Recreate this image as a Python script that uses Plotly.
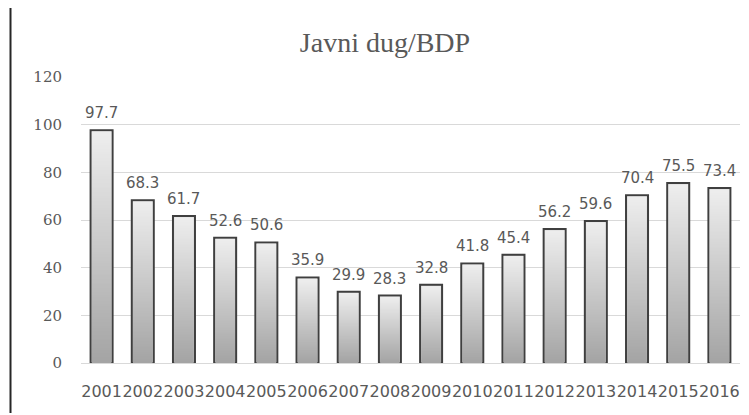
import base64
import struct
import zlib

import plotly.graph_objects as go

# Public debt to GDP ratio, in percent
years = ["2001", "2002", "2003", "2004", "2005", "2006", "2007", "2008",
         "2009", "2010", "2011", "2012", "2013", "2014", "2015", "2016"]
debt_to_gdp = [97.7, 68.3, 61.7, 52.6, 50.6, 35.9, 29.9, 28.3,
               32.8, 41.8, 45.4, 56.2, 59.6, 70.4, 75.5, 73.4]
y_ticks = [0, 20, 40, 60, 80, 100, 120]

TEXT_GREY = "#595959"
GRID_GREY = "#d9d9d9"
EDGE = "#3f3f3f"

W, H = 749, 415
M_L, M_R, M_T, M_B = 81, 9, 77, 52
BARGAP = 0.466
Y_MAX = 120


def gradient_png(top, bottom, rows=128, cols=4):
    """Build a small vertical-gradient PNG and return it as a data URI."""
    raw = b""
    for r in range(rows):
        t = r / (rows - 1)
        px = bytes(int(round(top[k] + (bottom[k] - top[k]) * t)) for k in range(3))
        raw += b"\x00" + px * cols

    def chunk(tag, data):
        c = struct.pack(">I", len(data)) + tag + data
        return c + struct.pack(">I", zlib.crc32(tag + data) & 0xFFFFFFFF)

    png = b"\x89PNG\r\n\x1a\n"
    png += chunk(b"IHDR", struct.pack(">IIBBBBB", cols, rows, 8, 2, 0, 0, 0))
    png += chunk(b"IDAT", zlib.compress(raw, 9))
    png += chunk(b"IEND", b"")
    return "data:image/png;base64," + base64.b64encode(png).decode()


bar_fill = gradient_png((238, 238, 238), (164, 164, 164))

fig = go.Figure()
fig.add_trace(go.Bar(
    x=years,
    y=debt_to_gdp,
    marker=dict(color="#c8c8c8", line=dict(color=EDGE, width=2)),
    hoverinfo="x+y",
))

# Gradient fill laid inside each bar outline (positions are category indices)
plot_w = W - M_L - M_R
plot_h = H - M_T - M_B
px_per_cat = plot_w / len(years)
px_per_unit = plot_h / Y_MAX
bar_w = 1 - BARGAP
inset_x = 1.2 / px_per_cat
inset_y = 1.2 / px_per_unit

images = []
annotations = []
for i, v in enumerate(debt_to_gdp):
    images.append(dict(
        source=bar_fill, xref="x", yref="y",
        x=i - bar_w / 2 + inset_x, y=v - inset_y,
        sizex=bar_w - 2 * inset_x, sizey=v - inset_y,
        xanchor="left", yanchor="top",
        sizing="stretch", layer="above",
    ))
    annotations.append(dict(
        x=i, y=v, xref="x", yref="y",
        text=f"{v:.1f}", showarrow=False,
        yanchor="bottom", yshift=6,
        font=dict(family="DejaVu Sans", size=15, color=TEXT_GREY),
    ))

fig.update_layout(
    width=W, height=H,
    margin=dict(l=M_L, r=M_R, t=M_T, b=M_B, autoexpand=False),
    paper_bgcolor="white",
    plot_bgcolor="white",
    bargap=BARGAP,
    showlegend=False,
    title=dict(
        text="Javni dug/BDP",
        x=(385 - M_L) / plot_w, xref="paper", xanchor="center",
        y=1 - 42 / H, yref="container", yanchor="middle",
        font=dict(family="Liberation Serif", size=28, color=TEXT_GREY),
    ),
    xaxis=dict(
        type="category",
        range=[-0.5, len(years) - 0.5],
        autorange=False,
        showgrid=False, showline=False, zeroline=False,
        ticks="",
        tickangle=0,
        automargin=False,
        ticklabelstandoff=17,
        tickfont=dict(family="DejaVu Sans", size=16, color=TEXT_GREY),
    ),
    yaxis=dict(
        range=[0, Y_MAX],
        autorange=False,
        tickvals=y_ticks,
        automargin=False,
        showgrid=True, gridcolor=GRID_GREY, gridwidth=1,
        zeroline=True, zerolinecolor=GRID_GREY, zerolinewidth=1,
        showline=False, ticks="",
        ticklabelstandoff=18,
        tickfont=dict(family="DejaVu Serif", size=15, color=TEXT_GREY),
    ),
    images=images,
    annotations=annotations,
    shapes=[dict(
        type="line", xref="paper", yref="paper",
        x0=(10.5 - M_L) / plot_w, x1=(10.5 - M_L) / plot_w,
        y0=(H - M_B - 413) / plot_h, y1=(H - M_B - 8) / plot_h,
        line=dict(color="#262626", width=2),
    )],
)

fig.write_html("out.html")
